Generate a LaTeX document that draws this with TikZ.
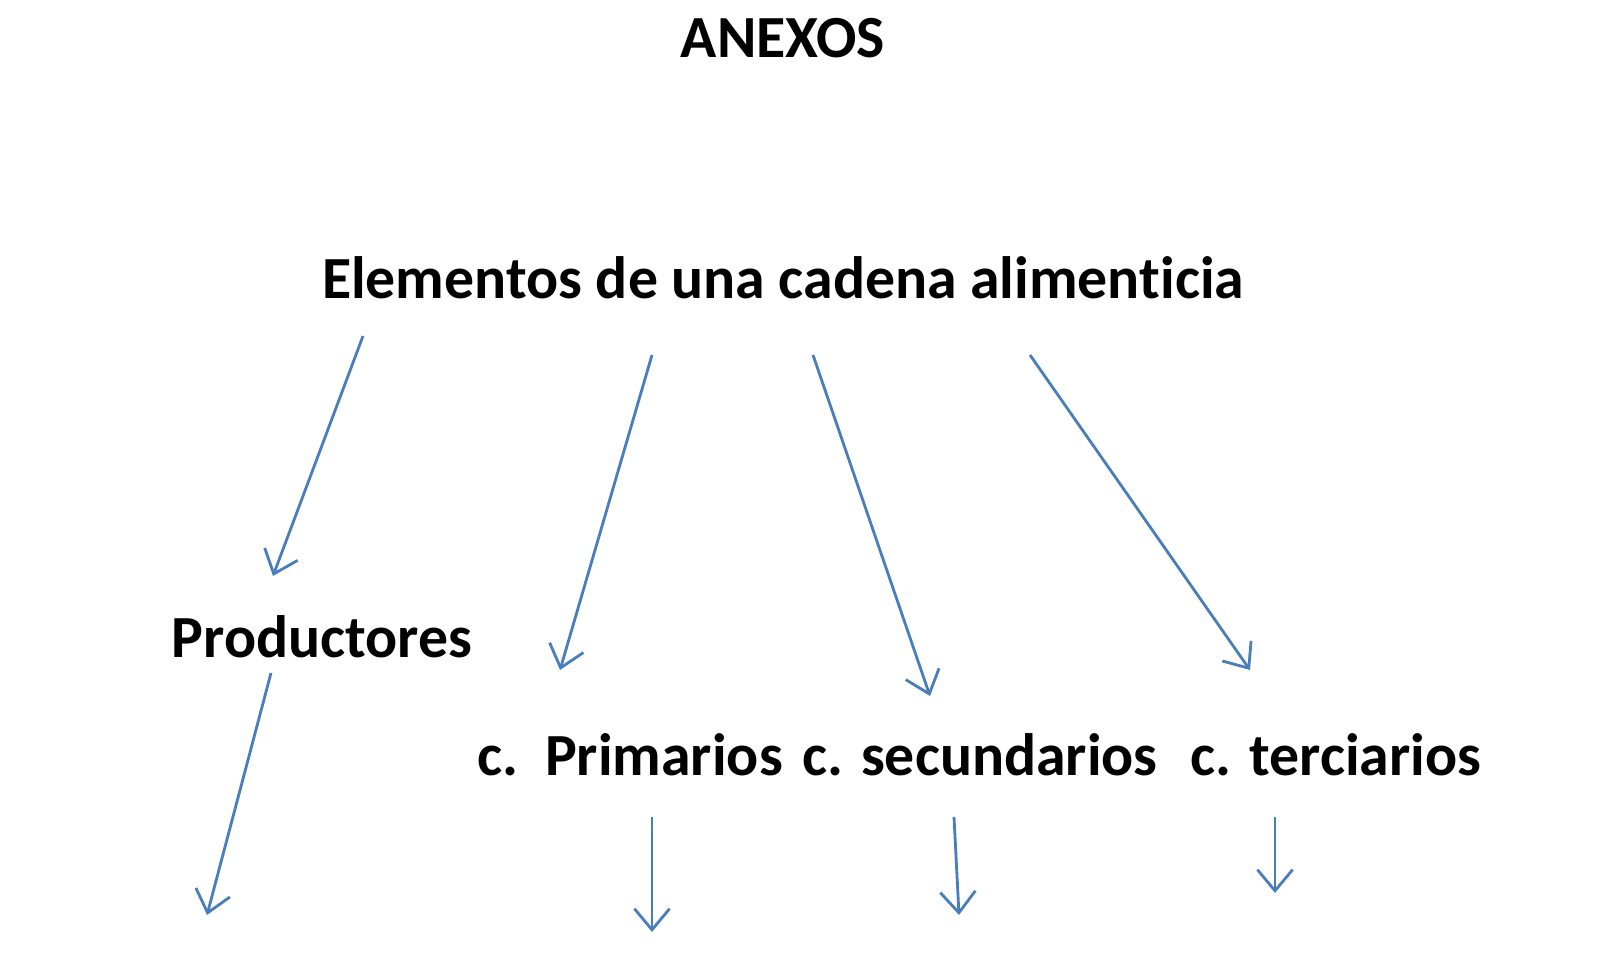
\documentclass[tikz,border=0pt]{standalone}
\usepackage{fontspec}
\setmainfont[Ligatures={NoCommon,NoRequired,NoContextual}]{Carlito}
\usetikzlibrary{arrows.meta}
\definecolor{arr}{HTML}{4A7EBB}
\begin{document}
\begin{tikzpicture}[x=0.01cm,y=-0.01cm,
  lbl/.style={font=\bfseries\fontsize{17}{20}\selectfont,inner sep=0},
  conn/.style={draw=arr,line width=0.8pt,-{Straight Barb[length=6pt,width=10pt,line width=0.8pt]}}]
\useasboundingbox (0,0) rectangle (1600,967);
\node[lbl] (anexos) at (783,38) {ANEXOS};
\node[lbl] (elem) at (783,278) {Elementos de una cadena alimenticia};
\node[lbl] (prod) at (322,637) {Productores};
\node[lbl] (prim) at (630,755) {c.\ \ Primarios};
\node[lbl] (sec) at (980,755) {c. secundarios};
\node[lbl] (ter) at (1336,755) {c. terciarios};
\coordinate (s1) at (363,336); \coordinate (e1) at (273,576);
\coordinate (s2) at (652,355); \coordinate (e2) at (560,670);
\coordinate (s3) at (813,355); \coordinate (e3) at (930,696);
\coordinate (s4) at (1030,355); \coordinate (e4) at (1250,670);
\coordinate (s5) at (271,673); \coordinate (e5) at (207,915);
\coordinate (s6) at (652,817); \coordinate (e6) at (652,932);
\coordinate (s7) at (954,817); \coordinate (e7) at (959,915);
\coordinate (s8) at (1275,817); \coordinate (e8) at (1275,893);
\foreach \i in {1,...,8} \draw[conn] (s\i) -- (e\i);
\end{tikzpicture}
\end{document}
